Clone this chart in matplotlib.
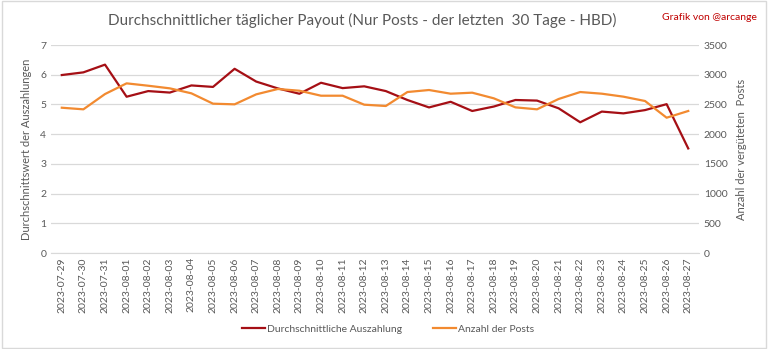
import matplotlib

matplotlib.use("Agg")
import matplotlib.pyplot as plt
from matplotlib.patches import Rectangle
from matplotlib.lines import Line2D

dates = [
    "2023-07-29", "2023-07-30", "2023-07-31", "2023-08-01", "2023-08-02", "2023-08-03",
    "2023-08-04", "2023-08-05", "2023-08-06", "2023-08-07", "2023-08-08", "2023-08-09",
    "2023-08-10", "2023-08-11", "2023-08-12", "2023-08-13", "2023-08-14", "2023-08-15",
    "2023-08-16", "2023-08-17", "2023-08-18", "2023-08-19", "2023-08-20", "2023-08-21",
    "2023-08-22", "2023-08-23", "2023-08-24", "2023-08-25", "2023-08-26", "2023-08-27",
]
payout = [
    5.99, 6.08, 6.34, 5.26, 5.45, 5.40, 5.64, 5.59, 6.20, 5.77, 5.54, 5.36,
    5.73, 5.55, 5.61, 5.45, 5.15, 4.90, 5.09, 4.78, 4.93, 5.15, 5.13, 4.87,
    4.40, 4.76, 4.70, 4.81, 5.01, 3.52,
]
posts = [
    2445, 2418, 2675, 2855, 2815, 2771, 2687, 2513, 2502, 2670, 2760, 2731,
    2647, 2647, 2496, 2474, 2709, 2743, 2681, 2698, 2603, 2451, 2418, 2592,
    2709, 2681, 2631, 2558, 2277, 2390,
]

RED = "#a50f15"
ORANGE = "#f28a30"
GRAY = "#595959"
GRID = "#d9d9d9"

plt.rcParams["font.family"] = ["Lato", "DejaVu Sans"]

fig = plt.figure(figsize=(7.68, 3.49), dpi=100)
ax = fig.add_axes([0.0664, 0.275, 0.8438, 0.596])
ax2 = ax.twinx()

x = range(len(dates))
ax.plot(x, payout, color=RED, lw=1.6, zorder=3)
ax2.plot(x, posts, color=ORANGE, lw=1.6, zorder=3)

ax.set_xlim(-0.5, len(dates) - 0.5)
ax.set_ylim(0, 7)
ax2.set_ylim(0, 3500)
ax.set_yticks(range(0, 8))
ax2.set_yticks(range(0, 3501, 500))
ax.set_xticks(list(x))
ax.set_xticklabels(dates, rotation=90, fontsize=7, color=GRAY)
ax.grid(axis="y", color=GRID, lw=0.9)
ax.set_axisbelow(True)
for a in (ax, ax2):
    for s in a.spines.values():
        s.set_visible(False)
    a.tick_params(length=0, labelsize=7.5, colors=GRAY)
ax.spines["bottom"].set_visible(True)
ax.spines["bottom"].set_color(GRID)
ax.tick_params(axis="x", pad=3)

ax.set_ylabel("Durchschnittswert der Auszahlungen", fontsize=8, color=GRAY, labelpad=6)
ax2.set_ylabel("Anzahl der vergüteten  Posts", fontsize=8, color=GRAY, labelpad=6)

fig.text(0.472, 0.94, "Durchschnittlicher täglicher Payout (Nur Posts - der letzten  30 Tage - HBD)",
         ha="center", va="center", fontsize=11, color=GRAY)
fig.text(0.985, 0.95, "Grafik von @arcange", ha="right", va="center", fontsize=7.5, color="#c00000")

handles = [Line2D([], [], color=RED, lw=1.6), Line2D([], [], color=ORANGE, lw=1.6)]
fig.legend(handles, ["Durchschnittliche Auszahlung", "Anzahl der Posts"], loc="center",
           bbox_to_anchor=(0.505, 0.057), ncol=2, frameon=False, fontsize=7.5,
           handlelength=2.2, handletextpad=0.2, columnspacing=3, labelcolor=GRAY)

fig.patches.append(Rectangle((0.002, 0.004), 0.996, 0.992, transform=fig.transFigure,
                             fill=False, edgecolor=GRID, lw=1))

fig.savefig("out.png", dpi=100)
